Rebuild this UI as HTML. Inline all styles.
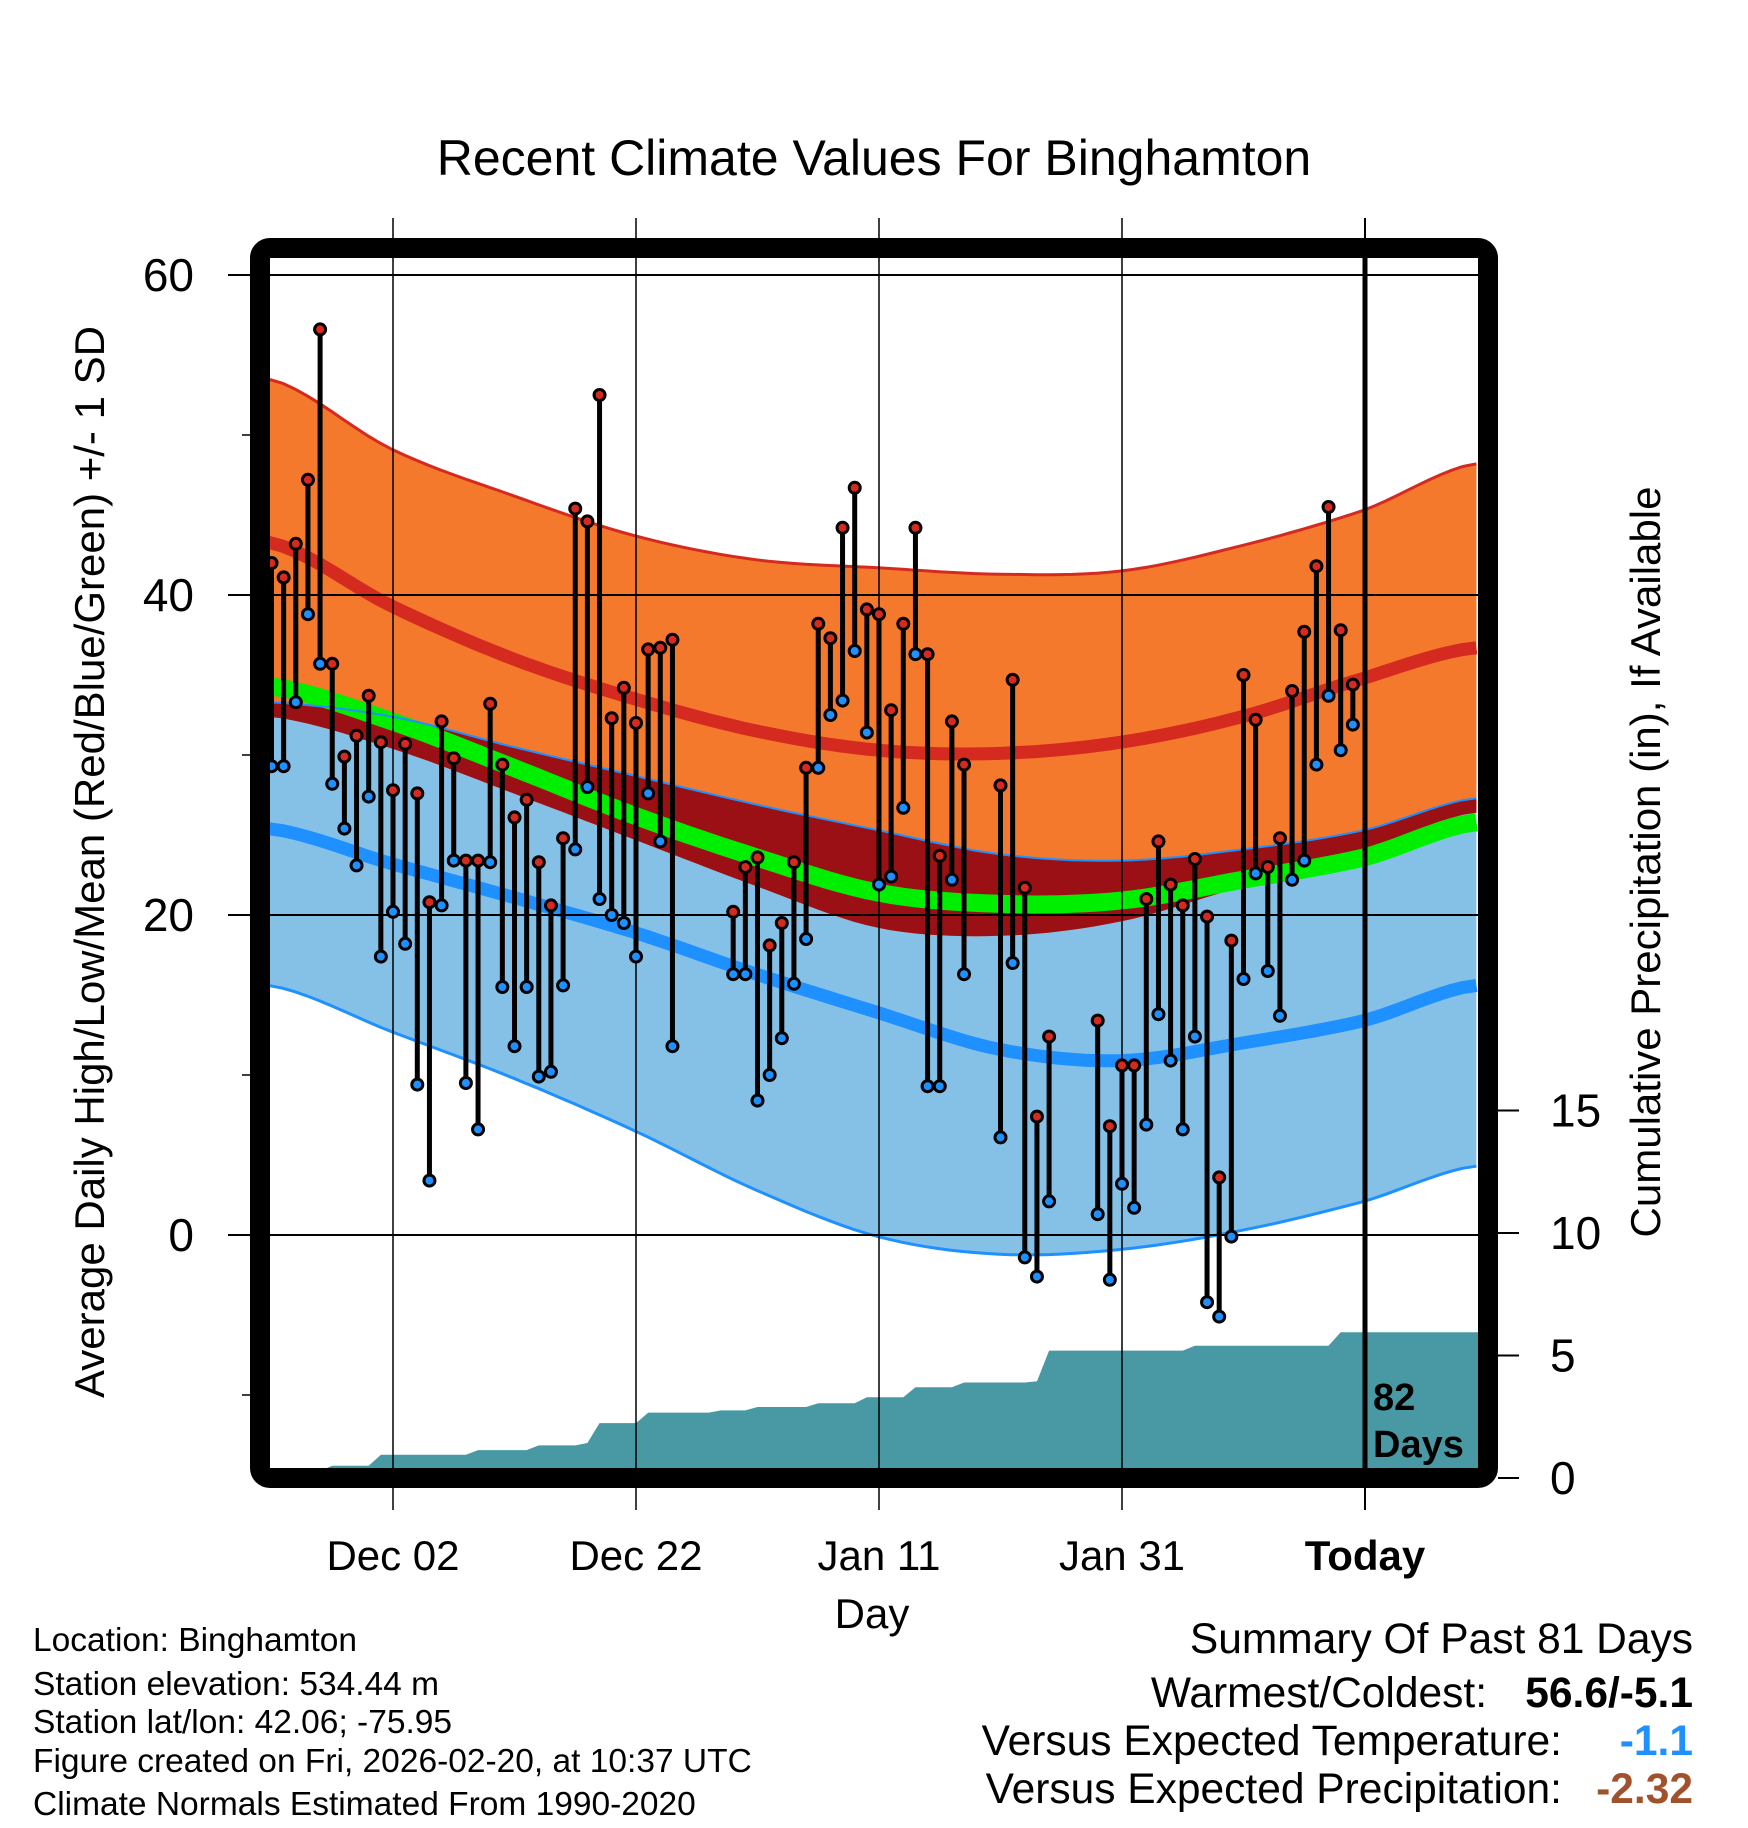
<!DOCTYPE html>
<html><head><meta charset="utf-8"><style>
html,body{margin:0;padding:0;background:#fff;}
svg{display:block;font-family:"Liberation Sans",sans-serif;}
</style></head><body>
<svg id="chart" width="1748" height="1828" viewBox="0 0 1748 1828" xmlns="http://www.w3.org/2000/svg">
<defs><clipPath id="plotclip"><rect x="270" y="258" width="1208" height="1210"/></clipPath></defs>
<text x="874" y="175" font-size="50" text-anchor="middle">Recent Climate Values For Binghamton</text>
<g id="bands" clip-path="url(#plotclip)"></g>
<g id="grid"></g>
<g id="marks" clip-path="url(#plotclip)"></g>
<rect x="260" y="248" width="1228" height="1230" rx="10" fill="none" stroke="#000" stroke-width="20"/>
<g id="axes"></g>
<text x="1373" y="1410" font-size="38" font-weight="bold">82</text>
<text x="1373" y="1457" font-size="38" font-weight="bold">Days</text>
<text x="872" y="1628" font-size="42" text-anchor="middle">Day</text>
<text transform="translate(104,862) rotate(-90)" font-size="42" text-anchor="middle">Average Daily High/Low/Mean (Red/Blue/Green) +/- 1 SD</text>
<text transform="translate(1660,862) rotate(-90)" font-size="42" text-anchor="middle">Cumulative Precipitation (in), If Available</text>
<g font-size="33.5">
<text x="33" y="1651">Location: Binghamton</text>
<text x="33" y="1695">Station elevation: 534.44 m</text>
<text x="33" y="1733">Station lat/lon: 42.06; -75.95</text>
<text x="33" y="1772">Figure created on Fri, 2026-02-20, at 10:37 UTC</text>
<text x="33" y="1815">Climate Normals Estimated From 1990-2020</text>
</g>
<g font-size="42.5">
<text x="1693" y="1653" text-anchor="end">Summary Of Past 81 Days</text>
<text x="1487" y="1707" text-anchor="end">Warmest/Coldest:</text>
<text x="1693" y="1707" text-anchor="end" font-weight="bold">56.6/-5.1</text>
<text x="1562" y="1755" text-anchor="end">Versus Expected Temperature:</text>
<text x="1693" y="1755" text-anchor="end" font-weight="bold" fill="#1e90ff">-1.1</text>
<text x="1562" y="1803" text-anchor="end">Versus Expected Precipitation:</text>
<text x="1693" y="1803" text-anchor="end" font-weight="bold" fill="#a0522d">-2.32</text>
</g>
</svg>
<script>
// normals sampled every 10 days starting at day 0 (Nov 22)
const normDays = [0,10,20,30,40,50,60,70,80,90,99];
const highPlusSD = [53.5,49.1,46.2,43.7,42.2,41.7,41.3,41.5,43.1,45.3,48.2];
const highMean = [43.3,39.3,36.0,33.5,31.5,30.3,30.1,30.8,32.4,34.8,36.7];
const highMinusSD = [32.4,30.4,27.6,24.7,21.8,19.2,18.7,19.6,21.8,24.0,26.4];
const meanTemp = [34.3,32.1,29.2,26.2,23.6,21.4,20.7,20.9,22.2,23.6,25.8];
const lowPlusSD = [33.3,32.4,30.5,28.7,26.9,25.3,23.8,23.4,24.1,25.3,27.3];
const lowMean = [25.4,23.2,21.1,18.9,16.3,13.9,11.6,10.9,12.0,13.4,15.6];
const lowMinusSD = [15.6,12.7,9.8,6.5,2.8,-0.1,-1.2,-0.9,0.3,2.1,4.3];
// daily observations (day 0 = Nov 22), null = missing
const highs = [42.0,41.1,43.2,47.2,56.6,35.7,29.9,31.2,33.7,30.8,27.8,30.7,27.6,20.8,32.1,29.8,23.4,23.4,33.2,29.4,26.1,27.2,23.3,20.6,24.8,45.4,44.6,52.5,32.3,34.2,32.0,36.6,36.7,37.2,null,null,null,null,20.2,23.0,23.6,18.1,19.5,23.3,29.2,38.2,37.3,44.2,46.7,39.1,38.8,32.8,38.2,44.2,36.3,23.7,32.1,29.4,null,null,28.1,34.7,21.7,7.4,12.4,null,null,null,13.4,6.8,10.6,10.6,21.0,24.6,21.9,20.6,23.5,19.9,3.6,18.4,35.0,32.2,23.0,24.8,34.0,37.7,41.8,45.5,37.8,34.4];
const lows = [29.3,29.3,33.3,38.8,35.7,28.2,25.4,23.1,27.4,17.4,20.2,18.2,9.4,3.4,20.6,23.4,9.5,6.6,23.3,15.5,11.8,15.5,9.9,10.2,15.6,24.1,28.0,21.0,20.0,19.5,17.4,27.6,24.6,11.8,null,null,null,null,16.3,16.3,8.4,10.0,12.3,15.7,18.5,29.2,32.5,33.4,36.5,31.4,21.9,22.4,26.7,36.3,9.3,9.3,22.2,16.3,null,null,6.1,17.0,-1.4,-2.6,2.1,null,null,null,1.3,-2.8,3.2,1.7,6.9,13.8,10.9,6.6,12.4,-4.2,-5.1,-0.1,16.0,22.6,16.5,13.7,22.2,23.4,29.4,33.7,30.3,31.9];
// daily precipitation (in)
const precip = [0,0,0,0,0.3,0.2,0,0,0,0.45,0,0,0,0,0,0,0,0.19,0,0,0,0,0.19,0,0,0,0.1,0.81,0,0,0,0.43,0,0,0,0,0,0.09,0,0,0.14,0,0,0,0,0.15,0,0,0,0.25,0,0,0,0.4,0,0,0,0.2,0,0,0,0,0,0.05,1.25,0,0,0,0,0,0,0,0,0,0,0,0.2,0,0,0,0,0,0,0,0,0,0,0,0.55,0];
const xLabels = ["Dec 02","Dec 22","Jan 11","Jan 31","Today"];
const xLabelDays = [10,30,50,70,90];
const yTicks = [60,40,20,0];
const yMinor = [50,30,10,-10];
const pTicks = [0,5,10,15];

const NS="http://www.w3.org/2000/svg";
const X=d=>271.5+12.15*d;
const Y=v=>1235-16*v;
const P=v=>1478-24.5*v;
function mk(tag,attrs,parent){const e=document.createElementNS(NS,tag);for(const k in attrs)e.setAttribute(k,attrs[k]);parent.appendChild(e);return e;}
function curvePts(arr){
  const pts=[];const n=normDays.length;
  for(let i=0;i<n-1;i++){
    const p0=arr[Math.max(i-1,0)],p1=arr[i],p2=arr[i+1],p3=arr[Math.min(i+2,n-1)];
    const d0=normDays[i],d1=normDays[i+1];
    for(let s=0;s<10;s++){const t=s/10;
      const v=0.5*((2*p1)+(-p0+p2)*t+(2*p0-5*p1+4*p2-p3)*t*t+(-p0+3*p1-3*p2+p3)*t*t*t);
      pts.push([X(d0+(d1-d0)*t)-1,Y(v)]);}
  }
  pts.push([X(normDays[n-1])+2,Y(arr[n-1])]);
  pts[0][0]=268;
  return pts;
}
function band(a,b){const pa=curvePts(a),pb=curvePts(b).reverse();return "M"+pa.concat(pb).map(p=>p[0].toFixed(1)+","+p[1].toFixed(1)).join("L")+"Z";}
function line(a){return "M"+curvePts(a).map(p=>p[0].toFixed(1)+","+p[1].toFixed(1)).join("L");}
const bands=document.getElementById('bands');
let e;
e=mk('path',{d:band(lowPlusSD,lowMinusSD),fill:'#85c1e6'},bands);


e=mk('path',{d:band(highPlusSD,highMinusSD),fill:'#f5792c'},bands);


const ov1=lowPlusSD.map((v,i)=>Math.min(v,highPlusSD[i]));
const ov2=highMinusSD.map((v,i)=>Math.min(v,lowPlusSD[i]));
e=mk('path',{d:band(ov1,ov2),fill:'#9a1015'},bands);


e=mk('path',{d:line(meanTemp),fill:'none',stroke:'#00ee00',"stroke-width":18},bands);


e=mk('path',{d:line(lowPlusSD),fill:'none',stroke:'#1e90ff',"stroke-width":2},bands);


e=mk('path',{d:line(lowMinusSD),fill:'none',stroke:'#1e90ff',"stroke-width":3},bands);


e=mk('path',{d:line(highPlusSD),fill:'none',stroke:'#d42a20',"stroke-width":3},bands);


e=mk('path',{d:line(highMean),fill:'none',stroke:'#d42a20',"stroke-width":13},bands);


e=mk('path',{d:line(lowMean),fill:'none',stroke:'#1e90ff',"stroke-width":13},bands);


let cum=0;const pp=[];
precip.forEach((v,i)=>{cum+=v;pp.push([X(i),P(cum)]);});
let pd="M268,1470L"+pp.map(p=>p[0].toFixed(1)+","+p[1].toFixed(1)).join("L")+"L1480,"+P(cum).toFixed(1)+"L1480,1470Z";
e=mk('path',{d:pd,fill:'#4899a3'},bands);


const grid=document.getElementById('grid');
yTicks.forEach(v=>{
  e=mk('line',{x1:228,x2:1478,y1:Y(v),y2:Y(v),stroke:'#000',"stroke-width":2},grid);
  
  
});
xLabelDays.forEach((d,i)=>{
  e=mk('line',{x1:X(d),x2:X(d),y1:218,y2:1510,stroke:'#000',"stroke-width":i==4?2:1.5},grid);
  
  
});
const marks=document.getElementById('marks');
e=mk('line',{x1:X(90),x2:X(90),y1:250,y2:1480,stroke:'#000',"stroke-width":5},marks);


highs.forEach((h,i)=>{
  const l=lows[i];if(h==null||l==null)return;
  e=mk('line',{x1:X(i),x2:X(i),y1:Y(h),y2:Y(l),stroke:'#000',"stroke-width":5},marks);
  
  
});
highs.forEach((h,i)=>{
  const l=lows[i];if(h==null||l==null)return;
  e=mk('circle',{cx:X(i),cy:Y(h),r:5.5,fill:'#d42a20',stroke:'#000',"stroke-width":3},marks);
  
  
  e=mk('circle',{cx:X(i),cy:Y(l),r:5.5,fill:'#1e90ff',stroke:'#000',"stroke-width":3},marks);
  
  
});
const axes=document.getElementById('axes');
yTicks.forEach(v=>{
  e=mk('text',{x:194,y:Y(v)+16,"font-size":46,"text-anchor":"end"},axes);e.textContent=v;
  
  
});
yMinor.forEach(v=>{
  e=mk('line',{x1:242,x2:252,y1:Y(v),y2:Y(v),stroke:'#000',"stroke-width":1.5},axes);
  
  
});
pTicks.forEach(v=>{
  e=mk('line',{x1:1498,x2:1519,y1:P(v),y2:P(v),stroke:'#000',"stroke-width":2},axes);
  
  
  e=mk('text',{x:1550,y:P(v)+16,"font-size":46},axes);e.textContent=v;
  
  
});
xLabels.forEach((t,i)=>{
  e=mk('text',{x:X(xLabelDays[i]),y:1570,"font-size":42,"text-anchor":"middle"},axes);e.textContent=t;
  if(i==4)e.setAttribute('font-weight','bold');
  
  
});
</script>
</body></html>
